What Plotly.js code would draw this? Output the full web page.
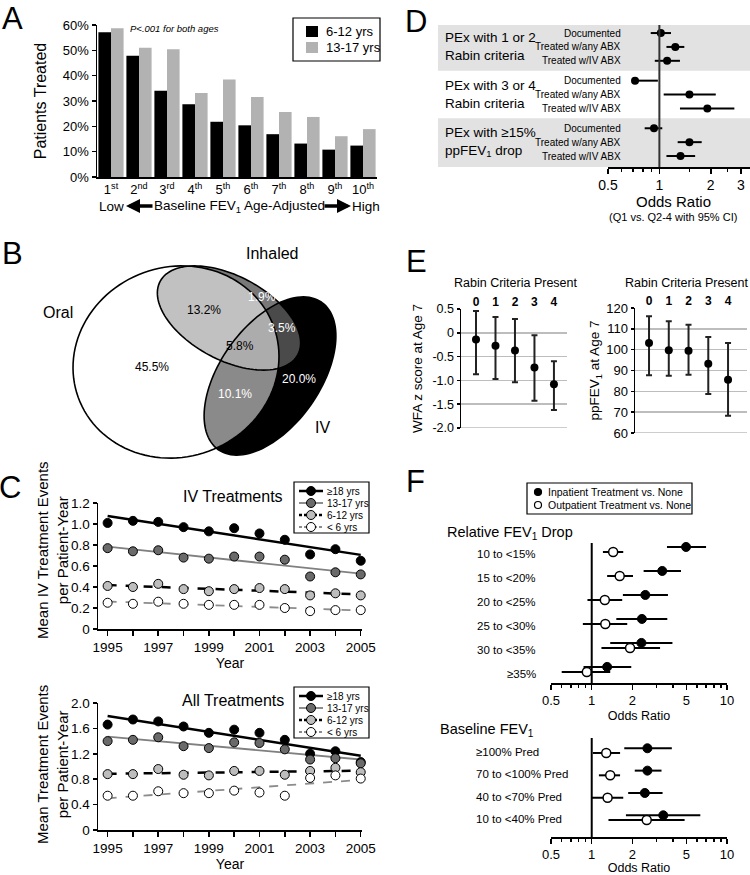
<!DOCTYPE html>
<html>
<head>
<meta charset="utf-8">
<script src="https://cdn.plot.ly/plotly-3.0.1.min.js"></script>
<style>
  html, body { margin: 0; padding: 0; background: #fff; }
  #chart { width: 750px; height: 875px; }
</style>
</head>
<body>
<div id="chart"></div>
<script>
/**
 * Data
 */

// A: patients treated by baseline FEV1 decile
const deciles = ["1<sup>st</sup>", "2<sup>nd</sup>", "3<sup>rd</sup>", "4<sup>th</sup>", "5<sup>th</sup>",
  "6<sup>th</sup>", "7<sup>th</sup>", "8<sup>th</sup>", "9<sup>th</sup>", "10<sup>th</sup>"];
const treated612 = [57.1, 47.9, 34.0, 28.7, 21.8, 20.4, 16.9, 13.2, 10.8, 12.4];
const treated1317 = [58.7, 51.0, 50.4, 33.2, 38.5, 31.6, 25.7, 23.7, 16.1, 18.9];

// B: treatment route overlap (percent of patients)
const vennPct = [45.5, 13.2, 1.9, 3.5, 5.8, 10.1, 20.0];

// C: mean treatment events per patient-year
const years = [1995, 1996, 1997, 1998, 1999, 2000, 2001, 2002, 2003, 2004, 2005];
const ageGroups = ["≥18 yrs", "13-17 yrs", "6-12 yrs", "< 6 yrs"];
const ivAdult = [1.01, 1.03, 1.02, 0.97, 0.93, 0.96, 0.91, 0.85, 0.71, 0.76, 0.65];
const iv1317 = [0.77, 0.74, 0.75, 0.68, 0.67, 0.69, 0.69, 0.66, 0.50, 0.54, 0.52];
const iv612 = [0.41, 0.40, 0.43, 0.38, 0.36, 0.38, 0.39, 0.38, 0.32, 0.34, 0.32];
const ivUnder6 = [0.25, 0.24, 0.26, 0.24, 0.23, 0.23, 0.23, 0.20, 0.17, 0.18, 0.18];
const allAdult = [1.66, 1.74, 1.71, 1.63, 1.53, 1.58, 1.53, 1.42, 1.20, 1.24, 1.07];
const all1317 = [1.40, 1.42, 1.46, 1.32, 1.29, 1.38, 1.37, 1.27, 1.11, 1.13, 1.05];
const all612 = [0.88, 0.88, 0.96, 0.87, 0.86, 0.93, 0.93, 0.87, 0.93, 0.98, 0.91];
const allUnder6 = [0.54, 0.54, 0.61, 0.58, 0.58, 0.62, 0.59, 0.54, 0.82, 0.86, 0.81];

// D: odds ratios (Q1 vs. Q2-4)
const dGroups = ["PEx with 1 or 2<br>Rabin criteria", "PEx with 3 or 4<br>Rabin criteria",
  "PEx with ≥15%<br>ppFEV<sub>1</sub> drop"];
const dOutcomes = ["Documented", "Treated w/any ABX", "Treated w/IV ABX"];
const dOR = [1.02, 1.24, 1.11, 0.72, 1.50, 1.91, 0.93, 1.50, 1.33];
const dLow = [0.89, 1.10, 0.94, 0.69, 1.06, 1.32, 0.82, 1.28, 1.10];
const dHigh = [1.17, 1.40, 1.32, 0.98, 2.14, 2.75, 1.04, 1.77, 1.62];

// E: outcomes at age 7 by number of Rabin criteria
const rabinCounts = [0, 1, 2, 3, 4];
const wfaMean = [-0.14, -0.27, -0.37, -0.73, -1.08];
const wfaLow = [-0.87, -0.97, -1.04, -1.43, -1.62];
const wfaHigh = [0.46, 0.33, 0.29, -0.05, -0.60];
const ppMean = [103.2, 99.7, 99.5, 93.3, 85.6];
const ppLow = [87.7, 87.5, 88.0, 78.7, 68.3];
const ppHigh = [116.0, 113.6, 112.0, 106.1, 103.2];

// F: odds ratios for FEV1 recovery
const relLabels = ["10 to &lt;15%", "15 to &lt;20%", "20 to &lt;25%", "25 to &lt;30%", "30 to &lt;35%", "≥35%"];
const relInOR = [4.98, 3.32, 2.49, 2.35, 2.33, 1.30];
const relInLow = [3.60, 2.42, 1.70, 1.52, 1.37, 0.87];
const relInHigh = [7.00, 4.57, 3.66, 3.62, 3.95, 1.96];
const relOutOR = [1.44, 1.61, 1.25, 1.26, 1.92, 0.92];
const relOutLow = [1.21, 1.30, 0.93, 0.86, 1.18, 0.60];
const relOutHigh = [1.71, 2.02, 1.68, 1.83, 3.20, 1.37];
const baseLabels = ["≥100% Pred", "70 to &lt;100% Pred", "40 to &lt;70% Pred", "10 to &lt;40% Pred"];
const baseInOR = [2.58, 2.58, 2.47, 3.38];
const baseInLow = [1.74, 2.08, 1.86, 1.79];
const baseInHigh = [3.91, 3.28, 3.34, 6.35];
const baseOutOR = [1.28, 1.37, 1.31, 2.55];
const baseOutLow = [1.02, 1.13, 1.00, 1.33];
const baseOutHigh = [1.62, 1.62, 1.71, 4.86];

/**
 * Helpers: pixel -> paper
 */
const W = 750, H = 875;
const FONT = "'Liberation Sans', Arial, sans-serif";
const px = v => v / W;
const py = v => 1 - v / H;
const xdom = (a, b) => [px(a), px(b)];
const ydom = (top, bottom) => [py(bottom), py(top)];

const diff = (a, b) => a.map((v, i) => v - b[i]);

// least-squares trend line over the years
const fit = ys => {
  const n = years.length;
  const mx = years.reduce((s, v) => s + v, 0) / n;
  const my = ys.reduce((s, v) => s + v, 0) / n;
  let sxy = 0, sxx = 0;
  years.forEach((x, i) => { sxy += (x - mx) * (ys[i] - my); sxx += (x - mx) * (x - mx); });
  const b = sxy / sxx;
  const ends = [years[0], years[n - 1]];
  return { x: ends, y: ends.map(x => my + b * (x - mx)) };
};

const ellipsePath = (cx, cy, a, b, deg) => {
  const t = deg * Math.PI / 180;
  const pts = [];
  for (let i = 0; i < 120; i++) {
    const s = i / 120 * 2 * Math.PI;
    const x = cx + a * Math.cos(t) * Math.cos(s) - b * Math.sin(t) * Math.sin(s);
    const y = cy + a * Math.sin(t) * Math.cos(s) + b * Math.cos(t) * Math.sin(s);
    pts.push(px(x).toFixed(5) + "," + py(y).toFixed(5));
  }
  return "M" + pts.join("L") + "Z";
};

const axisBase = {
  showline: true, linecolor: "#000", linewidth: 1.5,
  ticks: "outside", tickcolor: "#000", tickwidth: 1.5, ticklen: 4,
  showgrid: false, zeroline: false, fixedrange: true
};

/**
 * Traces
 */
const data = [];

// A
data.push({
  type: "bar", x: deciles, y: treated612, name: "6-12 yrs",
  marker: { color: "#000" }, xaxis: "x", yaxis: "y"
});
data.push({
  type: "bar", x: deciles, y: treated1317, name: "13-17 yrs",
  marker: { color: "#b2b2b2" }, xaxis: "x", yaxis: "y"
});

// D
const dRows = [];
dGroups.forEach((g, gi) => dOutcomes.forEach((o, k) => dRows.push(gi * 3.43 + k)));
data.push({
  type: "scatter", mode: "markers", x: dOR, y: dRows, xaxis: "x2", yaxis: "y2",
  marker: { color: "#000", size: 8 },
  error_x: { type: "data", array: diff(dHigh, dOR), arrayminus: diff(dOR, dLow),
    width: 0, thickness: 2, color: "#000" },
  cliponaxis: false
});

// E
const eStyle = { color: "#000", size: 8 };
const eErr = (hi, lo, mid) => ({ type: "data", array: diff(hi, mid), arrayminus: diff(mid, lo),
  width: 3, thickness: 2, color: "#222" });
data.push({
  type: "scatter", mode: "markers", x: rabinCounts, y: wfaMean, xaxis: "x3", yaxis: "y3",
  marker: eStyle, error_y: eErr(wfaHigh, wfaLow, wfaMean), cliponaxis: false
});
data.push({
  type: "scatter", mode: "markers", x: rabinCounts, y: ppMean, xaxis: "x4", yaxis: "y4",
  marker: eStyle, error_y: eErr(ppHigh, ppLow, ppMean), cliponaxis: false
});

// C
const cFill = ["#000", "#6a6a6a", "#bdbdbd", "#fff"];
const cLine = ["#000", "#808080", "#000", "#8c8c8c"];
const cDash = ["solid", "solid", "dash", "dash"];
const cWidth = [2.5, 1.8, 2.5, 1.8];
const addSeries = (series, xa, ya) => {
  series.forEach((ys, i) => {
    const f = fit(ys);
    data.push({
      type: "scatter", mode: "lines", x: f.x, y: f.y, xaxis: xa, yaxis: ya,
      line: { color: cLine[i], width: cWidth[i], dash: cDash[i] }, cliponaxis: false
    });
  });
  series.forEach((ys, i) => {
    data.push({
      type: "scatter", mode: "markers", x: years, y: ys, xaxis: xa, yaxis: ya,
      marker: { color: cFill[i], size: 9, line: { color: "#000", width: 1 } }, cliponaxis: false
    });
  });
};
addSeries([ivAdult, iv1317, iv612, ivUnder6], "x5", "y5");
addSeries([allAdult, all1317, all612, allUnder6], "x6", "y6");

// F
const IN_OFF = -0.21;
const relRows = relLabels.map((l, i) => i);
const baseRows = baseLabels.map((l, i) => i);
const fErr = (hi, lo, mid) => ({ type: "data", array: diff(hi, mid), arrayminus: diff(mid, lo),
  width: 0, thickness: 2, color: "#000" });
const fIn = { color: "#000", size: 9, line: { color: "#000", width: 1 } };
const fOut = { color: "#fff", size: 9, line: { color: "#000", width: 1.5 } };
data.push({ type: "scatter", mode: "markers", x: relInOR, y: relRows.map(r => r + IN_OFF),
  xaxis: "x7", yaxis: "y7", marker: fIn, error_x: fErr(relInHigh, relInLow, relInOR), cliponaxis: false });
data.push({ type: "scatter", mode: "markers", x: relOutOR, y: relRows,
  xaxis: "x7", yaxis: "y7", marker: fOut, error_x: fErr(relOutHigh, relOutLow, relOutOR), cliponaxis: false });
data.push({ type: "scatter", mode: "markers", x: baseInOR, y: baseRows.map(r => r + IN_OFF),
  xaxis: "x8", yaxis: "y8", marker: fIn, error_x: fErr(baseInHigh, baseInLow, baseInOR), cliponaxis: false });
data.push({ type: "scatter", mode: "markers", x: baseOutOR, y: baseRows,
  xaxis: "x8", yaxis: "y8", marker: fOut, error_x: fErr(baseOutHigh, baseOutLow, baseOutOR), cliponaxis: false });

/**
 * Shapes and annotations
 */
const shapes = [];
const annotations = [];
const text = (t, x, y, size, opts) => annotations.push(Object.assign({
  text: t, x: px(x), y: py(y), xref: "paper", yref: "paper", showarrow: false,
  font: { size: size, family: FONT, color: "#000" }, xanchor: "center", yanchor: "middle"
}, opts || {}));

// panel letters
[["A", 12, 19], ["B", 12, 254], ["C", 10, 487], ["D", 416, 21], ["E", 416, 261], ["F", 415, 482]]
  .forEach(([t, x, y]) => text(t, x, y, 31));

// A: legend box and annotations
shapes.push({ type: "rect", xref: "paper", yref: "paper", x0: px(293), x1: px(380), y0: py(18), y1: py(61),
  line: { color: "#000", width: 1.2 }, fillcolor: "#fff" });
shapes.push({ type: "rect", xref: "paper", yref: "paper", x0: px(306), x1: px(318), y0: py(26), y1: py(37),
  line: { width: 0 }, fillcolor: "#000" });
shapes.push({ type: "rect", xref: "paper", yref: "paper", x0: px(306), x1: px(318), y0: py(42), y1: py(53),
  line: { width: 0 }, fillcolor: "#b2b2b2" });
text("6-12 yrs", 324, 31.5, 13, { xanchor: "left" });
text("13-17 yrs", 324, 47.5, 13, { xanchor: "left" });
text("<i>P&lt;.001 for both ages</i>", 174, 29, 9.5);
const lowY = 206;
text("Low", 111, lowY, 13.5);
text("Baseline FEV<sub>1</sub> Age-Adjusted", 239, lowY, 13.5);
text("High", 366, lowY, 13.5);
annotations.push({ x: px(126), y: py(lowY), xref: "paper", yref: "paper", text: "", showarrow: true,
  ax: 28, ay: 0, arrowhead: 2, arrowsize: 0.8, arrowwidth: 3.5, arrowcolor: "#000", standoff: 0 });
annotations.push({ x: px(351), y: py(lowY), xref: "paper", yref: "paper", text: "", showarrow: true,
  ax: -28, ay: 0, arrowhead: 2, arrowsize: 0.8, arrowwidth: 3.5, arrowcolor: "#000", standoff: 0 });

// B: Venn diagram
const oral = ellipsePath(176, 362, 104, 95, -20);
const inhaled = ellipsePath(229, 318, 78, 42, 28);
const iv = ellipsePath(270, 376, 90, 50, -55);
shapes.push({ type: "path", path: iv, xref: "paper", yref: "paper", fillcolor: "#000", line: { width: 0 } });
shapes.push({ type: "path", path: inhaled, xref: "paper", yref: "paper", fillcolor: "rgba(90,90,90,0.82)", line: { width: 0 } });
shapes.push({ type: "path", path: oral, xref: "paper", yref: "paper", fillcolor: "rgba(255,255,255,0.54)", line: { width: 0 } });
[oral, inhaled, iv].forEach(p => shapes.push({ type: "path", path: p, xref: "paper", yref: "paper",
  fillcolor: "rgba(0,0,0,0)", line: { color: "#000", width: 1.6 } }));
const vennPos = [[152, 367], [204, 310], [262, 297], [282, 328], [240, 346], [235, 394], [299, 379]];
const vennInk = ["#000", "#000", "#fff", "#fff", "#000", "#fff", "#fff"];
vennPct.forEach((v, i) => text(v.toFixed(1) + "%", vennPos[i][0], vennPos[i][1], 12,
  { font: { size: 12, family: FONT, color: vennInk[i] } }));
text("Oral", 58, 313, 16);
text("Inhaled", 272, 253, 16);
text("IV", 322, 427, 16);

// C: titles, y titles and manual legends
text("IV Treatments", 233, 497, 16);
text("All Treatments", 233, 700, 16);
text("Mean IV Treatment Events<br>per Patient-Year", 52, 550, 15, { textangle: -90 });
text("Mean Treatment Events<br>per Patient-Year", 52, 765, 15, { textangle: -90 });
const cLegend = (top, bottom, first) => {
  shapes.push({ type: "rect", xref: "paper", yref: "paper", x0: px(294), x1: px(369), y0: py(top), y1: py(bottom),
    line: { color: "#000", width: 1.2 }, fillcolor: "#fff" });
  ageGroups.forEach((g, i) => {
    const y = first + i * 12;
    shapes.push({ type: "line", xref: "paper", yref: "paper", x0: px(299), x1: px(323), y0: py(y), y1: py(y),
      line: { color: cLine[i], width: cWidth[i], dash: cDash[i] === "dash" ? "3px,2px" : "solid" } });
    shapes.push({ type: "circle", xref: "paper", yref: "paper", xsizemode: "pixel", ysizemode: "pixel",
      xanchor: px(311), yanchor: py(y), x0: -4.5, x1: 4.5, y0: -4.5, y1: 4.5,
      fillcolor: cFill[i], line: { color: "#000", width: 1 } });
    text(g, 325, y, 10, { xanchor: "left" });
  });
};
cLegend(482, 533, 491);
cLegend(687, 738, 696);

// D: bands, reference line, labels
shapes.push({ type: "rect", xref: "paper", yref: "y2", x0: px(438), x1: 1, y0: -0.58, y1: 2.715,
  fillcolor: "#e2e2e2", line: { width: 0 }, layer: "below" });
shapes.push({ type: "rect", xref: "paper", yref: "y2", x0: px(438), x1: 1, y0: 6.145, y1: 9.65,
  fillcolor: "#e2e2e2", line: { width: 0 }, layer: "below" });
shapes.push({ type: "line", xref: "x2", yref: "y2 domain", x0: 1, x1: 1, y0: 0, y1: 1,
  line: { color: "#333", width: 2 } });
dRows.forEach((r, i) => annotations.push({ text: dOutcomes[i % 3], xref: "paper", yref: "y2", x: px(623), y: r,
  xanchor: "right", yanchor: "middle", showarrow: false, font: { size: 10, family: FONT, color: "#000" } }));
dGroups.forEach((g, gi) => annotations.push({ text: g, xref: "paper", yref: "y2", x: px(443), y: dRows[gi * 3 + 1],
  xanchor: "left", yanchor: "middle", align: "left", showarrow: false,
  font: { size: 13.5, family: FONT, color: "#000" } }));
text("Odds Ratio", 673, 201, 15);
text("(Q1 vs. Q2-4 with 95% CI)", 673, 217, 11);

// E: top titles and bottom grid lines
text("Rabin Criteria Present", 515, 283, 12.5);
text("Rabin Criteria Present", 686, 283, 12.5);
[["x3", "y3", -2], ["x4", "y4", 60]].forEach(([xa, ya, v]) => shapes.push({ type: "line",
  xref: xa + " domain", yref: ya, x0: 0, x1: 1, y0: v, y1: v, line: { color: "#bdbdbd", width: 1.5 }, layer: "below" }));

// F: legend, reference lines, labels
shapes.push({ type: "rect", xref: "paper", yref: "paper", x0: px(527), x1: px(692), y0: py(483), y1: py(514),
  line: { color: "#000", width: 1.2 }, fillcolor: "#fff" });
[["Inpatient Treatment vs. None", "#000", 492], ["Outpatient Treatment vs. None", "#fff", 505]].forEach(([t, c, y]) => {
  shapes.push({ type: "circle", xref: "paper", yref: "paper", xsizemode: "pixel", ysizemode: "pixel",
    xanchor: px(538), yanchor: py(y), x0: -3.5, x1: 3.5, y0: -3.5, y1: 3.5,
    fillcolor: c, line: { color: "#000", width: 1.2 } });
  text(t, 546, y, 10.5, { xanchor: "left" });
});
text("Relative FEV<sub>1</sub> Drop", 445, 533, 14.5, { xanchor: "left" });
text("Baseline FEV<sub>1</sub>", 438, 730, 14.5, { xanchor: "left" });
["x7", "x8"].forEach((xa, i) => shapes.push({ type: "line", xref: xa, yref: (i ? "y8" : "y7") + " domain",
  x0: 1, x1: 1, y0: 0, y1: 1, line: { color: "#000", width: 2 } }));
relLabels.forEach((l, i) => annotations.push({ text: l, xref: "paper", yref: "y7", x: px(538), y: relRows[i] + 0.08,
  xanchor: "right", yanchor: "middle", showarrow: false, font: { size: 11.5, family: FONT, color: "#000" } }));
baseLabels.forEach((l, i) => annotations.push({ text: l, xref: "paper", yref: "y8", x: px(474), y: baseRows[i] - 0.05,
  xanchor: "left", yanchor: "middle", showarrow: false, font: { size: 11.5, family: FONT, color: "#000" } }));

/**
 * Layout
 */
const tickNum = vals => vals.map(v => (v === 0 ? "0" : v.toFixed(1)));
const cY1 = [0, 0.2, 0.4, 0.6, 0.8, 1.0, 1.2];
const cY2 = [0, 0.4, 0.8, 1.2, 1.6, 2.0];
const wfaTicks = [0.5, 0, -0.5, -1.0, -1.5, -2.0];
const ppTicks = [60, 70, 80, 90, 100, 110, 120];
const yearText = years.map(y => ((y - years[0]) % 2 === 0 ? String(y) : ""));
const orTicksD = [0.5, 1, 2, 3];
const orTicksF = [0.5, 1, 2, 5, 10];
const minorF = { tickmode: "array", tickvals: [0.6, 0.7, 0.8, 0.9, 3, 4, 6, 7, 8, 9], ticks: "outside", ticklen: 3, tickcolor: "#000" };
const eTop = { ticks: "", showline: false, showgrid: false, zeroline: false, side: "top",
  tickmode: "array", tickvals: rabinCounts, tickfont: { size: 12, weight: "bold" }, fixedrange: true };

const layout = {
  width: W, height: H,
  margin: { l: 0, r: 0, t: 0, b: 0 },
  paper_bgcolor: "#fff", plot_bgcolor: "rgba(0,0,0,0)",
  font: { family: FONT, size: 13, color: "#000" },
  showlegend: false,
  barmode: "group", bargap: 0.1, bargroupgap: 0,
  shapes: shapes, annotations: annotations,

  // A
  xaxis: Object.assign({}, axisBase, { domain: xdom(97, 377), anchor: "y", ticks: "", tickfont: { size: 13 } }),
  yaxis: Object.assign({}, axisBase, { domain: ydom(25, 177), anchor: "x", range: [0, 60], dtick: 10,
    ticksuffix: "%", tickfont: { size: 13 }, title: { text: "Patients Treated", font: { size: 16 }, standoff: 12 } }),

  // D
  xaxis2: Object.assign({}, axisBase, { domain: xdom(608, 750), anchor: "y2", type: "log",
    range: [Math.log10(0.5), 0.531], tickmode: "array", tickvals: orTicksD, ticktext: orTicksD.map(String),
    ticklen: 5, tickfont: { size: 14 },
    minor: { tickmode: "array", tickvals: [0.6, 0.7, 0.8, 0.9, 1.5, 2.5], ticks: "outside", ticklen: 3, tickcolor: "#000" } }),
  yaxis2: { domain: ydom(25, 167), anchor: "x2", range: [9.65, -0.58], visible: false, fixedrange: true },

  // E left
  xaxis3: Object.assign({}, eTop, { domain: xdom(461, 567), anchor: "y3", range: [-0.77, 4.67] }),
  yaxis3: Object.assign({}, axisBase, { domain: ydom(309, 428), anchor: "x3", range: [-2, 0.5],
    tickmode: "array", tickvals: wfaTicks, ticktext: tickNum(wfaTicks), ticklen: 3,
    showgrid: true, gridcolor: "#bdbdbd", gridwidth: 1.5, tickfont: { size: 12.5 },
    title: { text: "WFA z score at Age 7", font: { size: 13.5 }, standoff: 6 } }),

  // E right
  xaxis4: Object.assign({}, eTop, { domain: xdom(635, 747), anchor: "y4", range: [-0.71, 4.96] }),
  yaxis4: Object.assign({}, axisBase, { domain: ydom(308, 433), anchor: "x4", range: [60, 120],
    tickmode: "array", tickvals: ppTicks, ticklen: 3,
    showgrid: true, gridcolor: "#bdbdbd", gridwidth: 1.5, tickfont: { size: 13 },
    title: { text: "ppFEV<sub>1</sub> at Age 7", font: { size: 13.5 }, standoff: 3 } }),

  // C top
  xaxis5: Object.assign({}, axisBase, { domain: xdom(98, 362), anchor: "y5", range: [1994.62, 2005.05],
    tickmode: "array", tickvals: years, ticktext: yearText, ticklen: 5, tickfont: { size: 13.5 },
    title: { text: "Year", font: { size: 14 }, standoff: 4 } }),
  yaxis5: Object.assign({}, axisBase, { domain: ydom(503, 629), anchor: "x5", range: [0, 1.2],
    tickmode: "array", tickvals: cY1, ticktext: tickNum(cY1), tickfont: { size: 13.5 } }),

  // C bottom
  xaxis6: Object.assign({}, axisBase, { domain: xdom(98, 362), anchor: "y6", range: [1994.62, 2005.05],
    tickmode: "array", tickvals: years, ticktext: yearText, ticklen: 5, tickfont: { size: 13.5 },
    title: { text: "Year", font: { size: 14 }, standoff: 4 } }),
  yaxis6: Object.assign({}, axisBase, { domain: ydom(703, 830), anchor: "x6", range: [0, 2],
    tickmode: "array", tickvals: cY2, ticktext: tickNum(cY2), tickfont: { size: 13.5 } }),

  // F top
  xaxis7: Object.assign({}, axisBase, { domain: xdom(551, 727), anchor: "y7", type: "log",
    range: [Math.log10(0.5), 1], tickmode: "array", tickvals: orTicksF, ticktext: orTicksF.map(String),
    ticklen: 5, tickfont: { size: 13 }, title: { text: "Odds Ratio", font: { size: 12.5 }, standoff: 4 },
    minor: minorF }),
  yaxis7: { domain: ydom(543, 683), anchor: "x7", range: [5.46, -0.375], visible: false, fixedrange: true },

  // F bottom
  xaxis8: Object.assign({}, axisBase, { domain: xdom(551, 727), anchor: "y8", type: "log",
    range: [Math.log10(0.5), 1], tickmode: "array", tickvals: orTicksF, ticktext: orTicksF.map(String),
    ticklen: 5, tickfont: { size: 13 }, title: { text: "Odds Ratio", font: { size: 12.5 }, standoff: 4 },
    minor: minorF }),
  yaxis8: { domain: ydom(738, 837), anchor: "x8", range: [3.76, -0.67], visible: false, fixedrange: true }
};

Plotly.newPlot("chart", data, layout, { displayModeBar: false, staticPlot: true });
</script>
</body>
</html>
